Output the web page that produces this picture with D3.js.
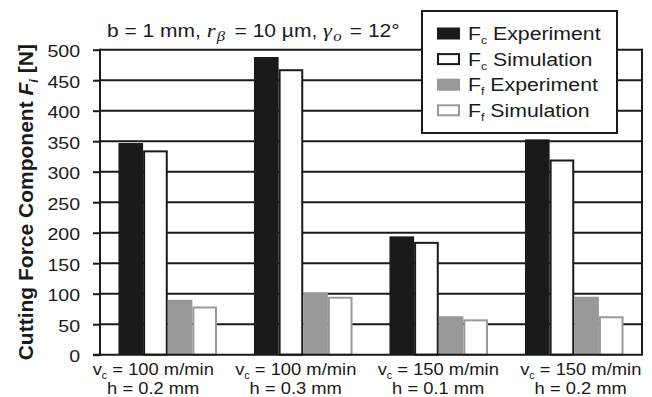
<!DOCTYPE html>
<html>
<head>
<meta charset="utf-8">
<script src="https://cdn.jsdelivr.net/npm/d3@7"></script>
<style>
  html, body { margin: 0; padding: 0; background: #fff; }
  svg { display: block; font-family: "Liberation Sans", Arial, sans-serif; }
</style>
</head>
<body>
<svg id="chart" width="652" height="397"></svg>
<script>
// Cutting conditions (x categories), two lines each
const categoryLine1 = ["100 m/min", "100 m/min", "150 m/min", "150 m/min"];
const categoryLine2 = ["h = 0.2 mm", "h = 0.3 mm", "h = 0.1 mm", "h = 0.2 mm"];

// Force components [N]
const fcExperiment = [347, 488, 194, 353];
const fcSimulation = [335, 468, 185, 320];
const ffExperiment = [90, 102, 63, 95];
const ffSimulation = [79, 95, 58, 63];

const yTicks = [0, 50, 100, 150, 200, 250, 300, 350, 400, 450, 500];

const series = [
  { key: "fcExp", sub: "c", name: "Experiment", values: fcExperiment, fill: "#1a1a1a", stroke: "none" },
  { key: "fcSim", sub: "c", name: "Simulation", values: fcSimulation, fill: "#ffffff", stroke: "#1a1a1a" },
  { key: "ffExp", sub: "f", name: "Experiment", values: ffExperiment, fill: "#999999", stroke: "none" },
  { key: "ffSim", sub: "f", name: "Simulation", values: ffSimulation, fill: "#ffffff", stroke: "#9a9a9a" }
];

const svg = d3.select("#chart");
const W = 652, H = 397;
const margin = { left: 100, right: 10, top: 49.7, bottom: 42.3 };
const x0 = margin.left, x1 = W - margin.right;
const yTop = margin.top, yBot = H - margin.bottom;
const ink = "#1a1a1a";
const stretch = 1.15;   // wide-set lettering of the horizontal labels
const serif = "'Liberation Serif', 'Times New Roman', serif";

const groups = d3.range(categoryLine1.length);

const x = d3.scaleBand().domain(groups).range([x0, x1]).paddingInner(0).paddingOuter(0);
const xs = d3.scaleBand().domain(series.map(s => s.key)).range([0, x.bandwidth()])
  .paddingInner(0).paddingOuter(0.75);
const y = d3.scaleLinear().domain([0, 500]).range([yBot, yTop]);

// horizontal grid lines
svg.append("g")
  .selectAll("line")
  .data(yTicks.filter(t => t > 0))
  .join("line")
  .attr("x1", x0).attr("x2", x1)
  .attr("y1", d => y(d)).attr("y2", d => y(d))
  .attr("stroke", ink).attr("stroke-width", 2);

// right frame edge
svg.append("line")
  .attr("x1", x1).attr("x2", x1).attr("y1", yTop - 1).attr("y2", yBot)
  .attr("stroke", ink).attr("stroke-width", 2);

// left axis with ticks and labels
const yAxis = d3.axisLeft(y).tickValues(yTicks).tickSize(7).tickSizeOuter(0);
const gy = svg.append("g").attr("transform", `translate(${x0},0)`).call(yAxis);
gy.select(".domain").attr("stroke", ink).attr("stroke-width", 2).attr("d", `M0,${yTop - 1}V${yBot + 1}`);
gy.selectAll(".tick line").attr("stroke", ink).attr("stroke-width", 2);
gy.selectAll(".tick text")
  .attr("x", 0)
  .attr("dy", "0.4em")
  .attr("transform", `translate(-20,0) scale(${stretch},1)`)
  .attr("fill", "#1a1a1a")
  .style("font-family", "'Liberation Sans', Arial, sans-serif")
  .style("font-size", "17px");

// bars
const barG = svg.append("g");
series.forEach(s => {
  const inset = s.stroke === "none" ? 0 : 1;
  barG.selectAll(null)
    .data(s.values)
    .join("rect")
    .attr("x", (d, i) => x(i) + xs(s.key) + inset)
    .attr("y", d => y(d) + inset)
    .attr("width", xs.bandwidth() - 2 * inset)
    .attr("height", d => y(0) - y(d) - inset)
    .attr("fill", s.fill)
    .attr("stroke", s.stroke)
    .attr("stroke-width", s.stroke === "none" ? 0 : 2);
});

// bottom axis line
svg.append("line")
  .attr("x1", x0 - 7).attr("x2", x1 + 1).attr("y1", yBot).attr("y2", yBot)
  .attr("stroke", ink).attr("stroke-width", 2);

// category labels (spread across a slightly wider band than the plot)
const xl = d3.scaleBand().domain(groups).range([x0 - 18, W]);
const lab = svg.append("g").attr("fill", "#1a1a1a").style("font-size", "17px");
groups.forEach(i => {
  const cx = xl(i) + xl.bandwidth() / 2;
  const t1 = lab.append("g").attr("transform", `translate(${cx},375) scale(1.08,1)`)
    .append("text").attr("text-anchor", "middle");
  t1.append("tspan").text("v");
  t1.append("tspan").attr("dy", 4).style("font-size", "10px").text("c");
  t1.append("tspan").attr("dy", -4).text(" = " + categoryLine1[i]);
  lab.append("g").attr("transform", `translate(${cx},394) scale(1.08,1)`)
    .append("text").attr("text-anchor", "middle").text(categoryLine2[i]);
});

// y axis title
const yt = svg.append("text")
  .attr("transform", `translate(33,${(yTop + yBot) / 2}) rotate(-90)`)
  .attr("text-anchor", "middle")
  .attr("fill", "#1a1a1a")
  .style("font-size", "21px")
  .style("font-weight", "bold");
yt.append("tspan").text("Cutting Force Component ");
yt.append("tspan").style("font-style", "italic").text("F");
yt.append("tspan").attr("dy", 5).style("font-style", "italic").style("font-size", "13px").text("i");
yt.append("tspan").attr("dy", -5).text(" [N]");

// parameter line above the plot
const pt = svg.append("g").attr("transform", "translate(107,37) scale(1.2,1)")
  .append("text").attr("fill", "#1a1a1a").style("font-size", "17.5px");
pt.append("tspan").text("b = 1 mm, ");
pt.append("tspan").style("font-family", serif).style("font-style", "italic").style("font-size", "19px").text("r");
pt.append("tspan").attr("dx", 1).attr("dy", 4).style("font-family", serif).style("font-style", "italic").style("font-size", "14px").text("β");
pt.append("tspan").attr("dx", 3).attr("dy", -4).text(" = 10 µm, ");
pt.append("tspan").style("font-family", serif).style("font-style", "italic").style("font-size", "19px").text("γ");
pt.append("tspan").attr("dx", 1).attr("dy", 4).style("font-family", serif).style("font-style", "italic").style("font-size", "14px").text("o");
pt.append("tspan").attr("dx", 2).attr("dy", -4).text(" = 12°");

// legend
const lg = svg.append("g").attr("transform", "translate(422,11)");
lg.append("rect").attr("x", 0).attr("y", 0).attr("width", 195).attr("height", 122)
  .attr("fill", "#fff").attr("stroke", ink).attr("stroke-width", 2);
series.forEach((s, i) => {
  const cy = 22.5 + i * 25.6;
  const inset = s.stroke === "none" ? 0 : 1;
  lg.append("rect")
    .attr("x", 15 + inset).attr("y", cy - 6 + inset)
    .attr("width", 23 - 2 * inset).attr("height", 12 - 2 * inset)
    .attr("fill", s.fill).attr("stroke", s.stroke)
    .attr("stroke-width", s.stroke === "none" ? 0 : 2);
  const t = lg.append("g").attr("transform", `translate(46,${cy + 6.5}) scale(1.12,1)`)
    .append("text").attr("fill", "#1a1a1a").style("font-size", "19px");
  t.append("tspan").text("F");
  t.append("tspan").attr("dy", 4).style("font-size", "11px").text(s.sub);
  t.append("tspan").attr("dy", -4).text(" " + s.name);
});
</script>
</body>
</html>
